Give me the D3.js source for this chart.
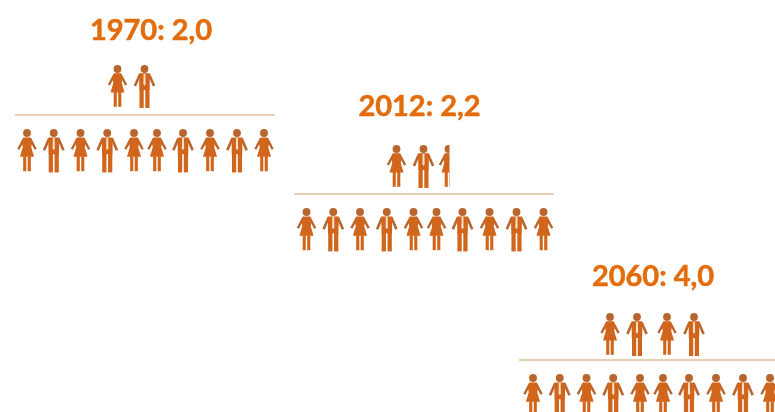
<!DOCTYPE html>
<html>
<head>
<meta charset="utf-8">
<script src="https://cdn.jsdelivr.net/npm/d3@7/dist/d3.min.js"></script>
<style>
html,body{margin:0;padding:0;background:#fff;overflow:hidden}
svg{display:block}
text{font-family:Lato,"Open Sans",sans-serif;font-weight:700}
</style>
</head>
<body>
<svg id="c" width="775" height="412"></svg>
<script>
// Data
const years = ["1970", "2012", "2060"];
const ratioLabels = ["2,0", "2,2", "4,0"];
const ratios = [2.0, 2.2, 4.0];
const workers = [10, 10, 10];
const workerGenders = ["f","m","f","m","f","f","m","f","m","f"];
const retireeGenders = ["f","m","f","m"];

// Layout
const orange = "#e36c0a", body = "#d2651a", limb = "#b9652f", rule = "#e9cfb2";
const titleX = d3.scaleOrdinal().domain(years).range([151, 419.5, 653]);
const titleY = d3.scaleOrdinal().domain(years).range([40, 116, 286]);
const ruleDx = d3.scaleOrdinal().domain(years).range([0, 279, 504]);
const ruleY = d3.scaleOrdinal().domain(years).range([115, 194, 360]);
const workerDx = d3.scaleOrdinal().domain(years).range([0, 279.5, 506]);
const workerY = d3.scaleOrdinal().domain(years).range([129, 208, 374]);
const retireeStart = d3.scaleOrdinal().domain(years).range([117.5, 396.5, 610]);
const retireeY = d3.scaleOrdinal().domain(years).range([65, 145, 313]);
const workerX = d3.scaleLinear().domain([0,4,5,6,9]).range([27,134,157,183,264]);
const retireeStep = d3.scaleLinear().domain([0,1,2,3]).range([0,27,57,84]);
const partWidth = d3.scaleLinear().domain([0,0.2,1]).range([0,13,24]);

const svg = d3.select("#c");
const defs = svg.append("defs");
const blur = defs.append("filter").attr("id","soft")
  .attr("x","-30%").attr("y","-30%").attr("width","160%").attr("height","160%");
blur.append("feGaussianBlur").attr("stdDeviation",0.75);
const blurText = defs.append("filter").attr("id","softText")
  .attr("x","-5%").attr("y","-20%").attr("width","110%").attr("height","140%");
blurText.append("feGaussianBlur").attr("stdDeviation",0.3);

function person(g, kind, k){
  const p = g.append("g").attr("transform",`scale(${k})`).attr("filter","url(#soft)");
  if(kind === "f"){
    p.append("path").attr("d","M-3,9.5 L-8.6,20 M3,9.5 L8.6,20")
      .attr("stroke",limb).attr("stroke-width",2.4).attr("fill","none");
    p.append("circle").attr("cx",0).attr("cy",4).attr("r",3.9).attr("fill",limb);
    p.append("path").attr("fill",body)
      .attr("d","M-3.8,8.3 L3.8,8.3 L5,14 L4.2,18 L7,27.5 L-7,27.5 L-4.2,18 L-5,14 Z");
    p.append("rect").attr("x",-3.8).attr("y",27).attr("width",3.1).attr("height",14.8).attr("fill",body);
    p.append("rect").attr("x",0.7).attr("y",27).attr("width",3.1).attr("height",14.8).attr("fill",body);
  } else {
    p.append("path").attr("d","M-4.6,9.5 L-9.6,21 M4.6,9.5 L9.6,21")
      .attr("stroke",limb).attr("stroke-width",2.6).attr("fill","none");
    p.append("circle").attr("cx",0).attr("cy",4).attr("r",3.9).attr("fill",limb);
    p.append("path").attr("fill",body).attr("d","M-5.4,8.3 L5.4,8.3 L5.2,25 L-5.2,25 Z");
    p.append("rect").attr("x",-5).attr("y",24).attr("width",4.2).attr("height",19).attr("fill",body);
    p.append("rect").attr("x",0.8).attr("y",24).attr("width",4.2).attr("height",19).attr("fill",body);
    p.append("path").attr("fill","#f8e2ca").attr("d","M-0.9,9 L0.9,9 L1.1,19 L0,21 L-1.1,19 Z");
  }
}

years.forEach((year,i)=>{
  svg.append("text").attr("x",titleX(year)).attr("y",titleY(year))
    .attr("text-anchor","middle").attr("font-size",29).attr("fill",orange)
    .attr("stroke",orange).attr("stroke-width",0.5)
    .attr("filter","url(#softText)")
    .text(`${year}: ${ratioLabels[i]}`);

  svg.append("line").attr("x1",15+ruleDx(year)).attr("x2",275+ruleDx(year))
    .attr("y1",ruleY(year)).attr("y2",ruleY(year))
    .attr("stroke",rule).attr("stroke-width",2);

  // Retirees above the rule (the fractional one is cut off)
  const whole = Math.floor(ratios[i] + 1e-9);
  const frac = +(ratios[i] - whole).toFixed(3);
  const n = frac > 0 ? whole + 1 : whole;
  d3.range(n).forEach(j=>{
    const isPart = frac > 0 && j === whole;
    const cx = retireeStart(year) + retireeStep(j) - (isPart ? 5 : 0);
    const g = svg.append("g").attr("transform",`translate(${cx},${retireeY(year)})`);
    if(isPart){
      const id = "part"+i;
      defs.append("clipPath").attr("id",id).append("rect")
        .attr("x",-12).attr("y",-2).attr("width",partWidth(frac)).attr("height",48);
      person(g.append("g").attr("clip-path",`url(#${id})`), retireeGenders[j], 1);
    } else {
      person(g, retireeGenders[j], 1);
    }
  });

  // Workers below the rule
  d3.range(workers[i]).forEach(j=>{
    const g = svg.append("g")
      .attr("transform",`translate(${workerDx(year)+workerX(j)},${workerY(year)})`);
    person(g, workerGenders[j], 1.01);
  });
});
</script>
</body>
</html>
